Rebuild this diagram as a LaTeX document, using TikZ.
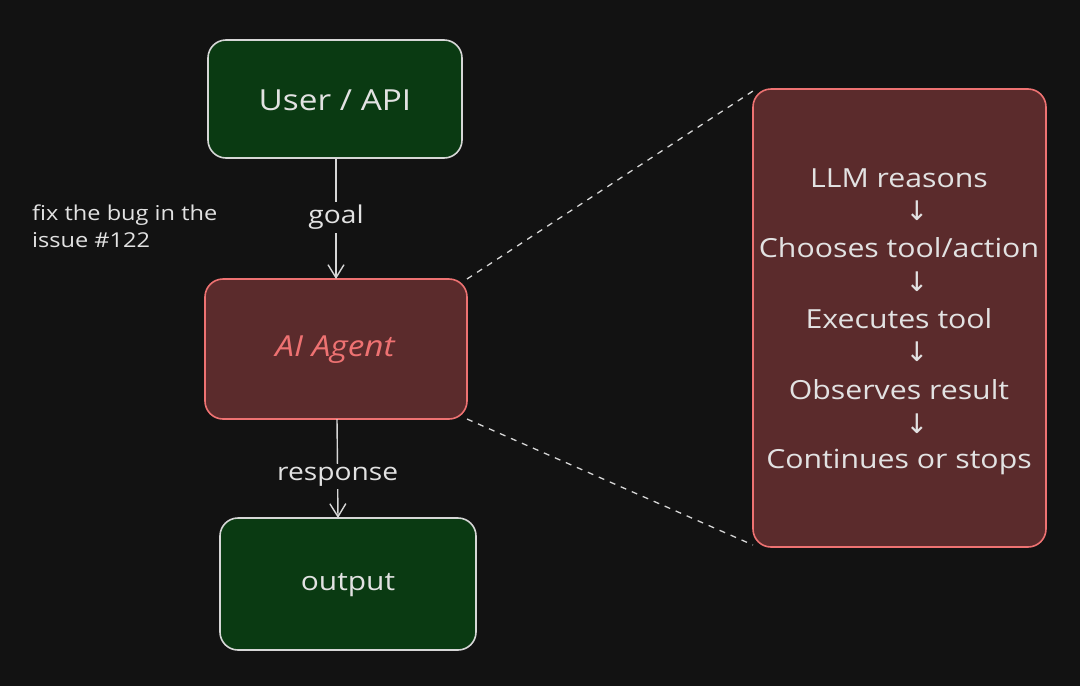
\documentclass[tikz,border=0pt]{standalone}
\usepackage{fontspec}
\setmainfont{Open Sans}[FakeStretch=1.15]
\newfontfamily\arrowfont{DejaVu Sans}
\usetikzlibrary{arrows.meta}
\definecolor{bg}{HTML}{121212}
\definecolor{gfill}{HTML}{0A3A12}
\definecolor{gline}{HTML}{D6D6D6}
\definecolor{rfill}{HTML}{5B2B2C}
\definecolor{rline}{HTML}{EE7272}
\definecolor{txt}{HTML}{E2E2E2}
\tikzset{
  greenbox/.style={draw=gline, fill=gfill, line width=1.6pt, rounded corners=18pt},
  redbox/.style={draw=rline, fill=rfill, line width=1.6pt, rounded corners=18pt},
  boxtext/.style={text=txt, font=\fontsize{28}{32}\selectfont},
  steptext/.style={text=txt, font=\fontsize{26.3}{30}\selectfont, inner sep=0pt},
  downarrow/.style={text=txt, font=\arrowfont\fontsize{27}{30}\selectfont, inner sep=0pt},
  flow/.style={draw=gline, line width=1.4pt, -{Straight Barb[length=13pt,width=16pt,line width=1.4pt]}},
  flowlabel/.style={fill=bg, text=txt, font=\fontsize{24.5}{28}\selectfont, inner sep=3pt},
  zoomline/.style={draw=gline, line width=1.3pt, dash pattern=on 6pt off 6pt},
}
\begin{document}
\begin{tikzpicture}[x=1pt,y=-1pt]
\fill[bg] (0,0) rectangle (1080,686);
\useasboundingbox (0,0) rectangle (1080,686);

% boxes
\draw[greenbox] (208,40) rectangle (462,158);
\node[boxtext, font=\fontsize{29}{32}\selectfont] (user) at (335,100) {User / API};
\coordinate (userb) at (336,158);

\draw[redbox] (205,279) rectangle (467,419);
\node[text=rline, font=\fontsize{29}{32}\selectfont\itshape] (agent) at (335,350) {AI Agent};
\coordinate (agentt) at (336,279);
\coordinate (agentb) at (337,419);
\coordinate (agentne) at (467,279);
\coordinate (agentse) at (467,419);

\draw[greenbox] (220,518) rectangle (476,650);
\node[boxtext, font=\fontsize{26}{30}\selectfont] (output) at (348,585) {output};
\coordinate (outputt) at (338,518);

\draw[redbox] (753,89) rectangle (1046,547);
\coordinate (loopnw) at (753,91);
\coordinate (loopsw) at (753,545);

% steps
\node[steptext] (s1) at (899,178) {LLM reasons};
\node[downarrow] (a1) at (917,211) {↓};
\node[steptext] (s2) at (899,248) {Chooses tool/action};
\node[downarrow] (a2) at (917,282) {↓};
\node[steptext] (s3) at (899,319) {Executes tool};
\node[downarrow] (a3) at (917,352) {↓};
\node[steptext] (s4) at (899,390) {Observes result};
\node[downarrow] (a4) at (917,424) {↓};
\node[steptext] (s5) at (899,462) {Continues or stops};

% connectors
\draw[flow] (userb) -- node[flowlabel, pos=0.49] (goal) {goal} (agentt);
\draw[flow] (agentb) -- node[flowlabel, pos=0.58] (resp) {response} (outputt);

\draw[zoomline] (agentne) -- (loopnw);
\draw[zoomline] (agentse) -- (loopsw);

% comment
\node[text=txt, font=\fontsize{20.5}{27}\selectfont, align=left, anchor=north west, inner sep=0pt] (note) at (32,205) {fix the bug in the\\issue \#122};
\end{tikzpicture}
\end{document}
